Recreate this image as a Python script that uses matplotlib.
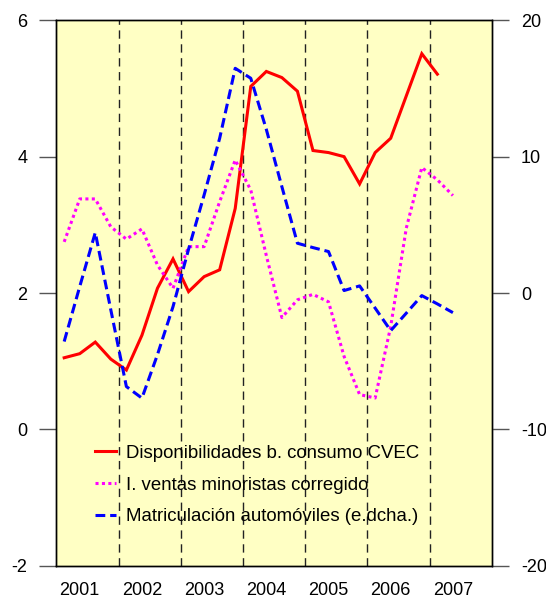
import matplotlib
matplotlib.use("Agg")
import matplotlib.pyplot as plt
import numpy as np

plt.rcParams['font.family'] = ['Liberation Sans', 'DejaVu Sans']
plt.rcParams['axes.unicode_minus'] = False

# Quarterly series, 2001Q1 onwards
years = ["2001", "2002", "2003", "2004", "2005", "2006", "2007"]
disponibilidades = [1.05, 1.11, 1.28, 1.03, 0.87, 1.38, 2.07, 2.50, 2.02, 2.24, 2.34, 3.24,
                    5.03, 5.25, 5.16, 4.96, 4.09, 4.06, 4.00, 3.60, 4.06, 4.27, 4.89, 5.51, 5.21]
ventas = [2.75, 3.38, 3.38, 2.97, 2.79, 2.94, 2.41, 2.07, 2.68, 2.68, 3.34, 3.95, 3.51,
          2.55, 1.64, 1.90, 1.98, 1.87, 1.07, 0.51, 0.46, 1.51, 2.95, 3.84, 3.66, 3.43]
matriculacion = [-3.56, 0.47, 4.43, -1.24, -6.86, -7.71, -4.52, -1.0, 3.21, 7.19, 11.35, 16.48,
                 15.75, 12.0, 7.8, 3.65, 3.33, 3.04, 0.18, 0.52, -1.11, -2.76, -1.48, -0.19,
                 -0.8, -1.44]
labels = ["Disponibilidades b. consumo CVEC",
          "I. ventas minoristas corregido",
          "Matriculación automóviles (e.dcha.)"]

fig = plt.figure(figsize=(5.46, 5.99), dpi=100)
ax = fig.add_axes([0.1033, 0.0556, 0.7974, 0.9105])
ax.set_facecolor('#FFFFC4')
ax2 = ax.twinx()
ax2.patch.set_visible(False)

# year separators
for k in range(1, len(years)):
    ax.axvline(4 * k - 0.5, color='#222222', lw=1, linestyle=(0, (6, 4)), zorder=1)

l1, = ax.plot(np.arange(len(disponibilidades)), disponibilidades, color='#FF0000', lw=2.2,
              solid_joinstyle='miter', zorder=3)
l2, = ax.plot(np.arange(len(ventas)), ventas, color='#FF00FF', lw=2.2,
              linestyle=(0, (1, 1.1)), zorder=3)
l3, = ax2.plot(np.arange(len(matriculacion)), matriculacion, color='#0000FF', lw=2.2,
               linestyle=(0, (3.2, 1.6)), zorder=3)

ax.set_xlim(-0.5, 27.5)
ax.set_ylim(-2, 6)
ax.set_yticks([-2, 0, 2, 4, 6])
ax2.set_ylim(-20, 20)
ax2.set_yticks([-20, -10, 0, 10, 20])

ax.set_xticks([4 * k + 1 for k in range(len(years))])
ax.set_xticklabels(years)
ax.tick_params(axis='x', length=0, pad=12, labelsize=13)
ax.tick_params(axis='y', length=12, width=1, color='#555555', pad=9, labelsize=13)
ax2.tick_params(axis='y', length=12, width=1, color='#555555', pad=9, labelsize=13)

for a in (ax, ax2):
    for s in a.spines.values():
        s.set_linewidth(1)
        s.set_color('black')

leg = ax2.legend([l1, l2, l3], labels, loc='upper left', bbox_to_anchor=(0.088, 0.222),
                 frameon=False, fontsize=13.4, handlelength=1.15, handletextpad=0.55,
                 labelspacing=0.8, borderpad=0, borderaxespad=0)

fig.savefig('out.png', dpi=100)
